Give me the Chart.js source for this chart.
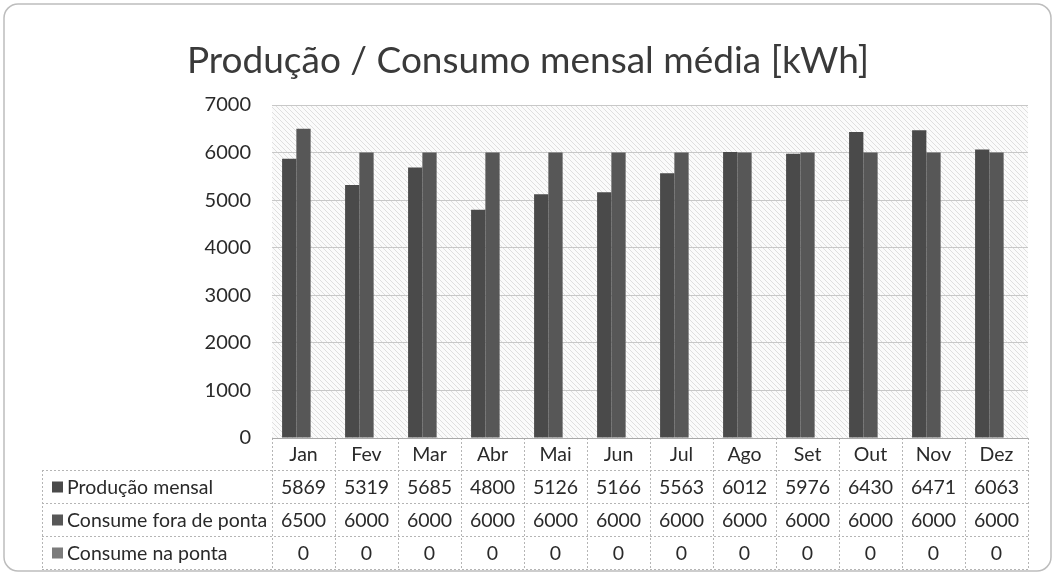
<!DOCTYPE html>
<html>
<head>
<meta charset="utf-8">
<script src="https://cdn.jsdelivr.net/npm/chart.js@4"></script>
<style>
body{margin:0;background:#fff;}
#wrap{width:1056px;height:576px;position:relative;}
</style>
</head>
<body>
<div id="wrap"><canvas id="chart" width="1056" height="576"></canvas></div>
<script>

const months=["Jan","Fev","Mar","Abr","Mai","Jun","Jul","Ago","Set","Out","Nov","Dez"];

const producao=[5869,5319,5685,4800,5126,5166,5563,6012,5976,6430,6471,6063];

const foraPonta=[6500,6000,6000,6000,6000,6000,6000,6000,6000,6000,6000,6000];

const naPonta=[0,0,0,0,0,0,0,0,0,0,0,0];

const seriesNames=["Produção mensal","Consume fora de ponta","Consume na ponta"];

const seriesColors=["#4a4a4a","#575757","#7b7b7b"];

const titleText="Produção / Consumo mensal média [kWh]";

const font="Lato";

// diagonal hatch used behind the plot
function hatch(){
const c=document.createElement("canvas");
c.width=5;c.height=5;
const g=c.getContext("2d");
g.fillStyle="#fbfbfb";
g.fillRect(0,0,5,5);
g.strokeStyle="#d8d8d8";
g.lineWidth=0.8;
g.beginPath();
g.moveTo(-1,-1);g.lineTo(6,6);
g.moveTo(-1,4);g.lineTo(1,6);
g.moveTo(4,-1);g.lineTo(6,1);
g.stroke();
return c;
}

const backPlugin={
id:"back",
beforeDraw(chart){
const ctx=chart.ctx;
const a=chart.chartArea;
ctx.save();
ctx.fillStyle=ctx.createPattern(hatch(),"repeat");
ctx.fillRect(a.left,a.top,a.right-a.left,a.bottom-a.top);
ctx.restore();
}
};

const tablePlugin={
id:"table",
afterDraw(chart){
const ctx=chart.ctx;
const a=chart.chartArea;
const x=chart.scales.x;
const rows=[producao,foraPonta,naPonta];
const top=a.bottom;
const catH=32;
const rowH=33;
const tableLeft=42;
const bottom=top+catH+rowH*rows.length;

ctx.save();

// outer rounded border
ctx.strokeStyle="#bdbdbd";
ctx.lineWidth=1.5;
ctx.beginPath();
ctx.roundRect(4,4,1047,567,14);
ctx.stroke();

// title
ctx.fillStyle="#3a3a3a";
ctx.font="37px "+font;
ctx.textAlign="center";
ctx.textBaseline="middle";
ctx.fillText(titleText,528,61);

// column bounds
const bounds=[a.left];
for(let i=1;i<months.length;i++){
bounds.push((x.getPixelForValue(i-1)+x.getPixelForValue(i))/2);
}
bounds.push(a.right);

ctx.strokeStyle="#b5b5b5";
ctx.lineWidth=1;
ctx.setLineDash([2,2]);
ctx.beginPath();
for(let r=1;r<=rows.length;r++){
const y=top+catH+rowH*(r-1)+0.5;
ctx.moveTo(tableLeft,y);ctx.lineTo(a.right,y);
}
ctx.moveTo(tableLeft,bottom+0.5);ctx.lineTo(a.right,bottom+0.5);
ctx.moveTo(tableLeft+0.5,top+catH);ctx.lineTo(tableLeft+0.5,bottom);
bounds.forEach(b=>{
ctx.moveTo(Math.round(b)+0.5,top);ctx.lineTo(Math.round(b)+0.5,bottom);
});
ctx.stroke();
ctx.setLineDash([]);

// axis line
ctx.strokeStyle="#a9a9a9";
ctx.beginPath();
ctx.moveTo(a.left,top+0.5);ctx.lineTo(a.right,top+0.5);
ctx.stroke();

ctx.fillStyle="#2a2a2a";
ctx.font="19.5px "+font;
ctx.textAlign="center";
months.forEach((m,i)=>{
ctx.fillText(m,x.getPixelForValue(i),top+catH/2+1);
});

rows.forEach((vals,r)=>{
const cy=top+catH+rowH*r+rowH/2+1;
vals.forEach((v,i)=>{
ctx.textAlign="center";
ctx.fillText(String(v),x.getPixelForValue(i),cy);
});
ctx.fillStyle=seriesColors[r];
ctx.fillRect(52,cy-6,11,11);
ctx.fillStyle="#2a2a2a";
ctx.textAlign="left";
ctx.fillText(seriesNames[r],67,cy);
});

ctx.restore();
}
};

new Chart(document.getElementById("chart"),{
type:"bar",
data:{
labels:months,
datasets:[
{label:seriesNames[0],data:producao,backgroundColor:seriesColors[0]},
{label:seriesNames[1],data:foraPonta,backgroundColor:seriesColors[1]},
{label:seriesNames[2],data:naPonta,backgroundColor:seriesColors[2]}
]
},
options:{
responsive:false,
animation:false,
layout:{padding:{top:105,right:28,bottom:138,left:0}},
datasets:{bar:{barPercentage:1,categoryPercentage:0.68}},
plugins:{legend:{display:false},tooltip:{enabled:false},title:{display:false}},
scales:{
x:{display:false},
y:{
min:0,
max:7000,
ticks:{stepSize:1000,padding:21,color:"#2a2a2a",font:{family:font,size:20},callback:v=>String(v)},
grid:{color:"#c8c8c8",drawTicks:false},
border:{display:false},
afterFit(s){s.width=272;}
}
}
},
plugins:[backPlugin,tablePlugin]
});

</script>
</body>
</html>
